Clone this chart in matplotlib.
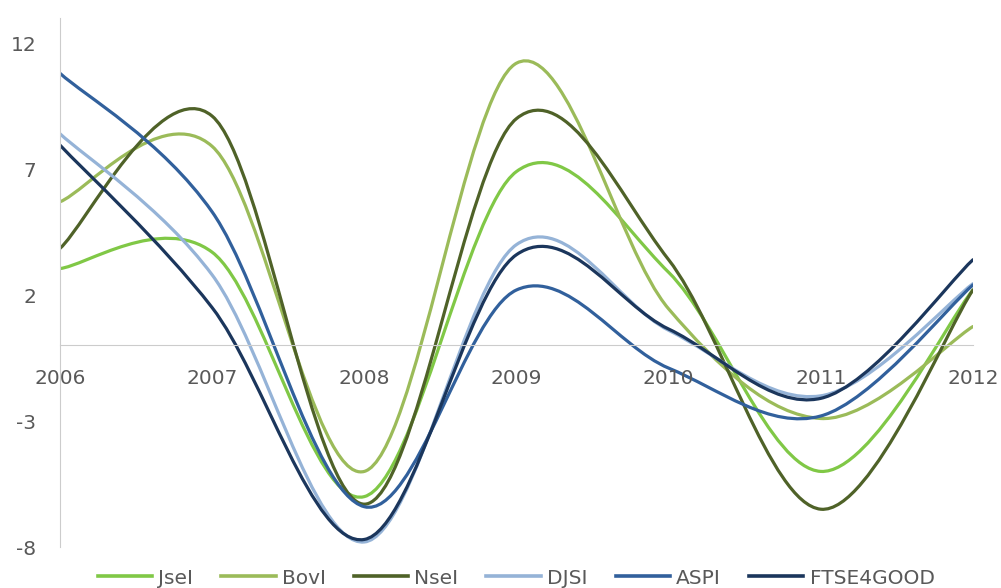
import matplotlib.pyplot as plt
from matplotlib.path import Path
from matplotlib.patches import PathPatch
from matplotlib.lines import Line2D

# values, one per year
years = [2006, 2007, 2008, 2009, 2010, 2011, 2012]
jsei = [3.05, 3.7, -6.0, 6.9, 2.9, -5.0, 2.2]
bovi = [5.7, 7.9, -5.0, 11.2, 1.45, -2.9, 0.75]
nsei = [3.85, 9.1, -6.3, 9.0, 3.4, -6.5, 2.2]
djsi = [8.4, 2.8, -7.8, 4.0, 0.6, -2.0, 2.45]
aspi = [10.8, 5.3, -6.4, 2.2, -0.9, -2.8, 2.4]
ftse = [7.95, 1.5, -7.7, 3.6, 0.65, -2.1, 3.4]

names = ['JseI', 'BovI', 'NseI', 'DJSI', 'ASPI', 'FTSE4GOOD']
series = [jsei, bovi, nsei, djsi, aspi, ftse]
colors = ['#80c846', '#9bbb59', '#4f6228', '#95b3d7', '#31609c', '#1b365c']
yticks = [-8, -3, 2, 7, 12]

grey_txt = '#595959'
grey_line = '#cccccc'

plt.rcParams['axes.unicode_minus'] = False


def smooth_path(xs, ys):
    # excel-style smoothed line: bezier segments, tangents from neighbours
    pts = list(zip(xs, ys))
    n = len(pts)
    verts = [pts[0]]
    codes = [Path.MOVETO]
    for i in range(n - 1):
        p0 = pts[max(i - 1, 0)]
        p1 = pts[i]
        p2 = pts[i + 1]
        p3 = pts[min(i + 2, n - 1)]
        c1 = (p1[0] + (p2[0] - p0[0]) / 6, p1[1] + (p2[1] - p0[1]) / 6)
        c2 = (p2[0] - (p3[0] - p1[0]) / 6, p2[1] - (p3[1] - p1[1]) / 6)
        verts += [c1, c2, p2]
        codes += [Path.CURVE4] * 3
    return Path(verts, codes)


fig = plt.figure(figsize=(10.01, 5.88), dpi=100)
ax = fig.add_axes([0.0599, 0.0697, 0.9121, 0.9])

handles = []
for name, vals, col in zip(names, series, colors):
    patch = PathPatch(smooth_path(years, vals), facecolor='none', edgecolor=col,
                      lw=2.3, capstyle='round', joinstyle='round')
    ax.add_patch(patch)
    handles.append(Line2D([], [], color=col, lw=2.6, label=name))

ax.set_xlim(2006, 2012)
ax.set_ylim(-8, 13)
ax.set_xticks(years)
ax.set_yticks(yticks)

for s in ['top', 'right']:
    ax.spines[s].set_visible(False)
ax.spines['left'].set_color(grey_line)
ax.spines['bottom'].set_color(grey_line)
ax.spines['bottom'].set_position(('data', 0))

ax.tick_params(axis='both', length=0, labelsize=14.5, labelcolor=grey_txt)
ax.tick_params(axis='y', pad=17)
ax.tick_params(axis='x', pad=17)

fig.legend(handles=handles, loc='center', bbox_to_anchor=(0.5155, 0.017),
           ncol=6, frameon=False, fontsize=14.5, handlelength=2.7,
           handletextpad=0.3, columnspacing=1.4, labelcolor=grey_txt)

fig.savefig('out.png', dpi=100)
